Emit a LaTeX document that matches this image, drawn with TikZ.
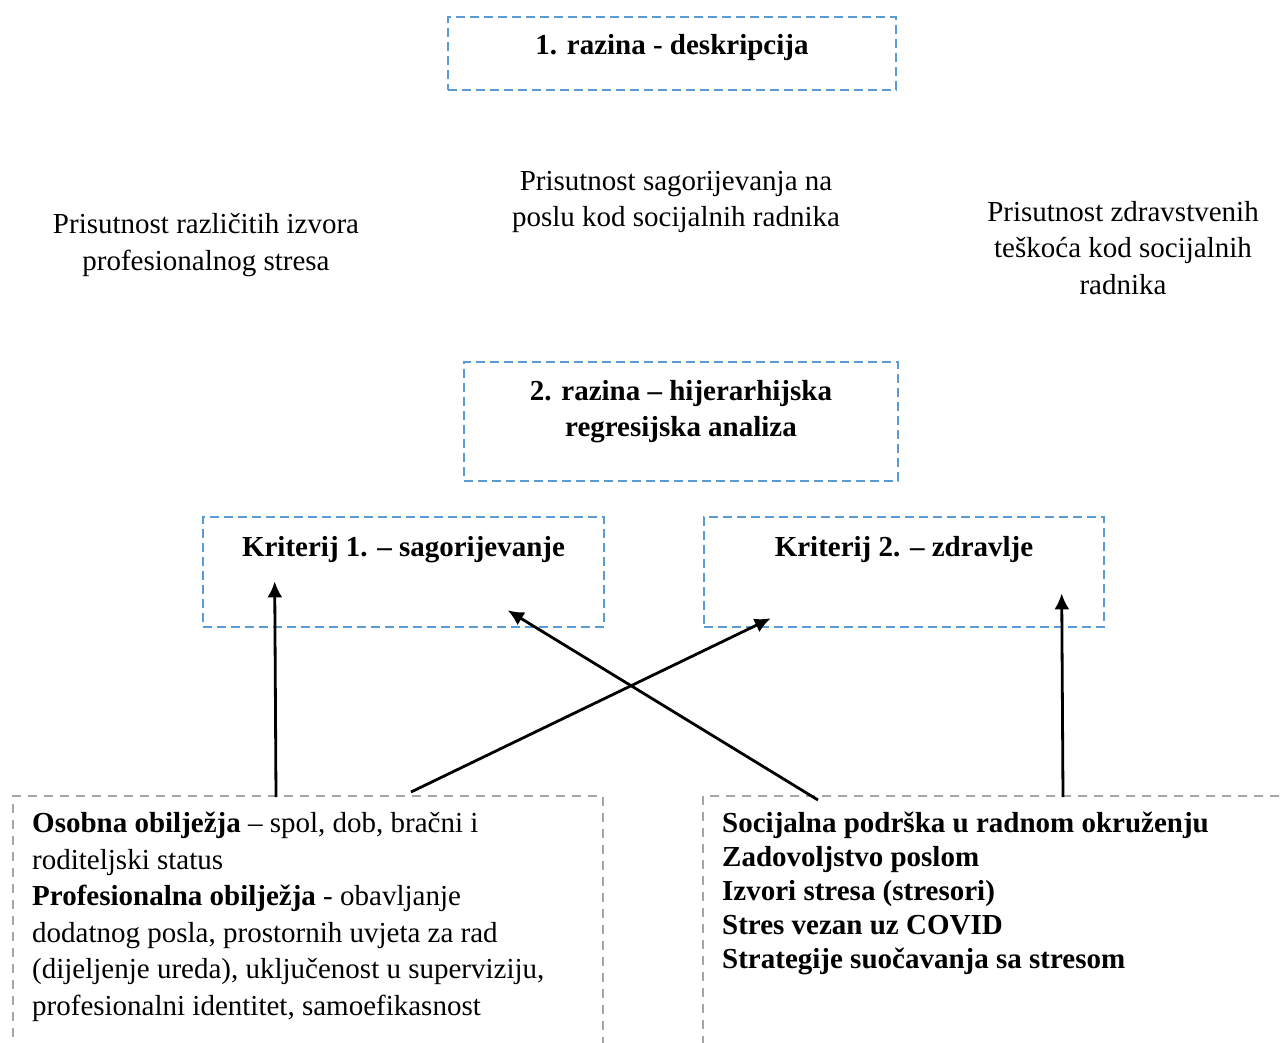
\documentclass[tikz,border=0pt]{standalone}
\usepackage{fontspec}
\setmainfont{Liberation Serif}
\usetikzlibrary{calc,positioning,arrows.meta}
\definecolor{boxblue}{HTML}{5B9BD5}
\definecolor{boxgray}{HTML}{A6A6A6}
\newcommand{\bodyfont}{\fontsize{29}{36.5}\selectfont}
\newcommand{\listfont}{\fontsize{29}{34}\selectfont}

\begin{document}
\begin{tikzpicture}[x=1pt,y=-1pt,
	bluebox/.style={draw=boxblue,line width=2.6pt,dash pattern=on 9pt off 5pt,inner sep=0pt},
	graybox/.style={draw=boxgray,line width=2.4pt,dash pattern=on 9pt off 7pt,inner sep=0pt},
	boxtext/.style={font=\bodyfont\bfseries,align=center,inner xsep=0pt},
	plain/.style={font=\bodyfont,align=center,inner sep=0pt},
	arr/.style={-{Latex[length=16pt,width=15pt]},line width=2.8pt}]
			\path[use as bounding box,clip] (0,0) rectangle (1284,1042);

			% razina 1 and its three results
			\node[bluebox,minimum width=448,minimum height=73,
				label={[boxtext,anchor=north,inner ysep=18.7pt]north:{1. razina - deskripcija}}] (lvl1) at (672,53.5) {};

			\node[plain] (izvori) at (206,245) {Prisutnost različitih izvora\\profesionalnog stresa};
			\node[plain] (sagor) at (676,202) {Prisutnost sagorijevanja na\\poslu kod socijalnih radnika};
			\node[plain] (zdrav) at (1123,248) {Prisutnost zdravstvenih\\teškoća kod socijalnih\\radnika};

			% razina 2
			\node[bluebox,minimum width=434,minimum height=119,
				label={[boxtext,anchor=north,inner ysep=19pt]north:{2. razina – hijerarhijska\\regresijska analiza}}] (lvl2) at (681,421.5) {};

			\node[bluebox,minimum width=401,minimum height=110,
				label={[boxtext,anchor=north,inner ysep=20.5pt]north:{Kriterij 1. – sagorijevanje}}] (krit1) at (403.5,572) {};
			\node[bluebox,minimum width=400,minimum height=110,
				label={[boxtext,anchor=north,inner ysep=20.5pt]north:{Kriterij 2. – zdravlje}}] (krit2) at (904,572) {};

			% prediktori
			\node[graybox,anchor=north west,minimum width=590,minimum height=300,
				label={[font=\bodyfont,align=left,anchor=north west,inner xsep=20pt,inner ysep=17pt]north west:{%
					\textbf{Osobna obilježja} – spol, dob, bračni i\\
					roditeljski status\\
					\textbf{Profesionalna obilježja} - obavljanje\\
					dodatnog posla, prostornih uvjeta za rad\\
					(dijeljenje ureda), uključenost u superviziju,\\
					profesionalni identitet, samoefikasnost}}] (osobna) at (12,795) {};
			\node[graybox,anchor=north west,minimum width=650,minimum height=300,
				label={[font=\listfont\bfseries,align=left,anchor=north west,inner xsep=20pt,inner ysep=17pt]north west:{%
					Socijalna podrška u radnom okruženju\\
					Zadovoljstvo poslom\\
					Izvori stresa (stresori)\\
					Stres vezan uz COVID\\
					Strategije suočavanja sa stresom}}] (socpod) at (702,795) {};

			\draw[arr] ($(osobna.north west)+(264,2)$) -- ($(krit1.south west)+(73,-47)$);
			\draw[arr] ($(osobna.north west)+(399,-3)$) -- ($(krit2.south west)+(68,-10)$);
			\draw[arr] ($(socpod.north west)+(116,5)$) -- ($(krit1.south west)+(306,-18)$);
			\draw[arr] ($(socpod.north west)+(361,2)$) -- ($(krit2.south west)+(359,-35)$);

\end{tikzpicture}
\end{document}
